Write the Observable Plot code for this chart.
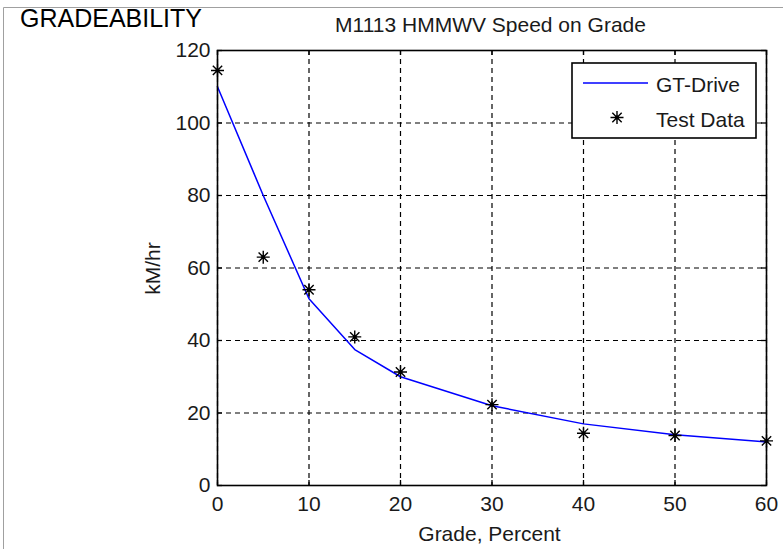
<!DOCTYPE html>
<html><head><meta charset="utf-8">
<script src="https://cdn.jsdelivr.net/npm/d3@7"></script>
<script src="https://cdn.jsdelivr.net/npm/@observablehq/plot@0.6"></script>
<style>
body{margin:0;background:#fff;}
#chart{width:783px;height:549px;overflow:hidden;}
</style>
</head><body><div id="chart"></div>
<script>
const grade = [0, 5, 10, 15, 20, 30, 40, 50, 60];
const gtDrive = [110, 80, 51.5, 37.5, 30, 22, 17, 14, 12];
const testGrade = [0, 5, 10, 15, 20, 30, 40, 50, 60];
const testSpeed = [114.5, 63, 54, 41, 31.3, 22.3, 14.4, 13.8, 12.3];
const xTicks = [0, 10, 20, 30, 40, 50, 60];
const yTicks = [0, 20, 40, 60, 80, 100, 120];
const seriesNames = ["GT-Drive", "Test Data"];
const titleText = "M1113 HMMWV Speed on Grade";
const xLabel = "Grade, Percent";
const yLabel = "kM/hr";
const headerText = "GRADEABILITY";

const lineData = grade.map((g, i) => ({grade: g, speed: gtDrive[i]}));
const testData = testGrade.map((g, i) => ({grade: g, speed: testSpeed[i]}));

const star = {
  draw(ctx, size) {
    const r = Math.sqrt(size / Math.PI);
    const d = r * 0.72;
    ctx.moveTo(-r, 0); ctx.lineTo(r, 0);
    ctx.moveTo(0, -r); ctx.lineTo(0, r);
    ctx.moveTo(-d, -d); ctx.lineTo(d, d);
    ctx.moveTo(-d, d); ctx.lineTo(d, -d);
  }
};

const W = 783, H = 549, mL = 217, mR = 17, mT = 50, mB = 64;
const FW = W - mL - mR, FH = H - mT - mB, TL = 5;
const font = "'Liberation Sans', Arial, Helvetica, sans-serif";
const ink = "#1a1a1a";

const chart = Plot.plot({
  width: W, height: H,
  marginLeft: mL, marginRight: mR, marginTop: mT, marginBottom: mB,
  style: {fontFamily: font, fontSize: "21px", color: ink, background: "white"},
  x: {domain: [0, 60]},
  y: {domain: [0, 120]},
  marks: [
    Plot.gridX(xTicks, {stroke: "black", strokeOpacity: 1, strokeWidth: 1.2, strokeDasharray: "5,4"}),
    Plot.gridY(yTicks, {stroke: "black", strokeOpacity: 1, strokeWidth: 1.2, strokeDasharray: "5,4"}),
    Plot.tickX(xTicks, {x: d => d, insetTop: FH - TL, stroke: "black", strokeWidth: 1.3}),
    Plot.tickX(xTicks, {x: d => d, insetBottom: FH - TL, stroke: "black", strokeWidth: 1.3}),
    Plot.tickY(yTicks, {y: d => d, insetRight: FW - TL, stroke: "black", strokeWidth: 1.3}),
    Plot.tickY(yTicks, {y: d => d, insetLeft: FW - TL, stroke: "black", strokeWidth: 1.3}),
    Plot.axisX(xTicks, {tickSize: 0, tickPadding: 11, fontSize: 21, label: null, fill: ink}),
    Plot.axisY(yTicks, {tickSize: 0, tickPadding: 7, fontSize: 21, label: null, fill: ink}),
    Plot.line(lineData, {x: "grade", y: "speed", stroke: "#0000ff", strokeWidth: 1.5}),
    Plot.dot(testData, {x: "grade", y: "speed", symbol: star, r: 6.5, stroke: "black", strokeWidth: 1.4, fill: "none"}),
    Plot.dot(testData, {x: "grade", y: "speed", r: 2, fill: "black"}),
    Plot.frame({stroke: "black", strokeWidth: 1.6})
  ]
});
document.getElementById("chart").appendChild(chart);

const svg = d3.select(chart);
const xs = chart.scale("x"), ys = chart.scale("y");
const fL = xs.range[0], fR = xs.range[1], fT = ys.range[1], fB = ys.range[0];
const cx = (fL + fR) / 2, cy = (fT + fB) / 2;

// outer grey border
svg.append("line").attr("x1", 3.5).attr("x2", W).attr("y1", 7.5).attr("y2", 7.5).attr("stroke", "#a0a0a0");
svg.append("line").attr("x1", 3.5).attr("x2", 3.5).attr("y1", 7.5).attr("y2", H).attr("stroke", "#a0a0a0");

svg.append("text").text(headerText).attr("x", 20).attr("y", 27).attr("text-anchor", "start")
  .attr("font-size", 25).attr("fill", "black").attr("font-family", font);
svg.append("text").text(titleText).attr("x", cx - 1).attr("y", fT - 18)
  .attr("text-anchor", "middle").attr("font-size", 21).attr("fill", ink).attr("font-family", font);
svg.append("text").text(xLabel).attr("x", cx - 2).attr("y", fB + 56)
  .attr("text-anchor", "middle").attr("font-size", 21).attr("fill", ink).attr("font-family", font);
svg.append("text").text(yLabel)
  .attr("transform", `translate(${fL - 57},${cy + 1}) rotate(-90)`)
  .attr("text-anchor", "middle").attr("font-size", 21).attr("fill", ink).attr("font-family", font);

// legend
const lg = svg.append("g");
const bx = fR - 194, by = fT + 13;
lg.append("rect").attr("x", bx).attr("y", by).attr("width", 184).attr("height", 75)
  .attr("fill", "white").attr("stroke", "black").attr("stroke-width", 1.6);
lg.append("line").attr("x1", bx + 11).attr("x2", bx + 76).attr("y1", by + 20).attr("y2", by + 20)
  .attr("stroke", "#0000ff").attr("stroke-width", 1.5);
lg.append("text").text(seriesNames[0]).attr("x", bx + 84).attr("y", by + 29).attr("text-anchor", "start")
  .attr("font-size", 21).attr("fill", ink).attr("font-family", font);
const sx = bx + 45, sy = by + 54.5;
lg.append("path").attr("d", d3.symbol(star, 6.5 * 6.5 * Math.PI)()).attr("transform", `translate(${sx},${sy})`)
  .attr("stroke", "black").attr("stroke-width", 1.4).attr("fill", "none");
lg.append("circle").attr("cx", sx).attr("cy", sy).attr("r", 2).attr("fill", "black");
lg.append("text").text(seriesNames[1]).attr("x", bx + 84).attr("y", by + 64).attr("text-anchor", "start")
  .attr("font-size", 21).attr("fill", ink).attr("font-family", font);
</script>
</body></html>
